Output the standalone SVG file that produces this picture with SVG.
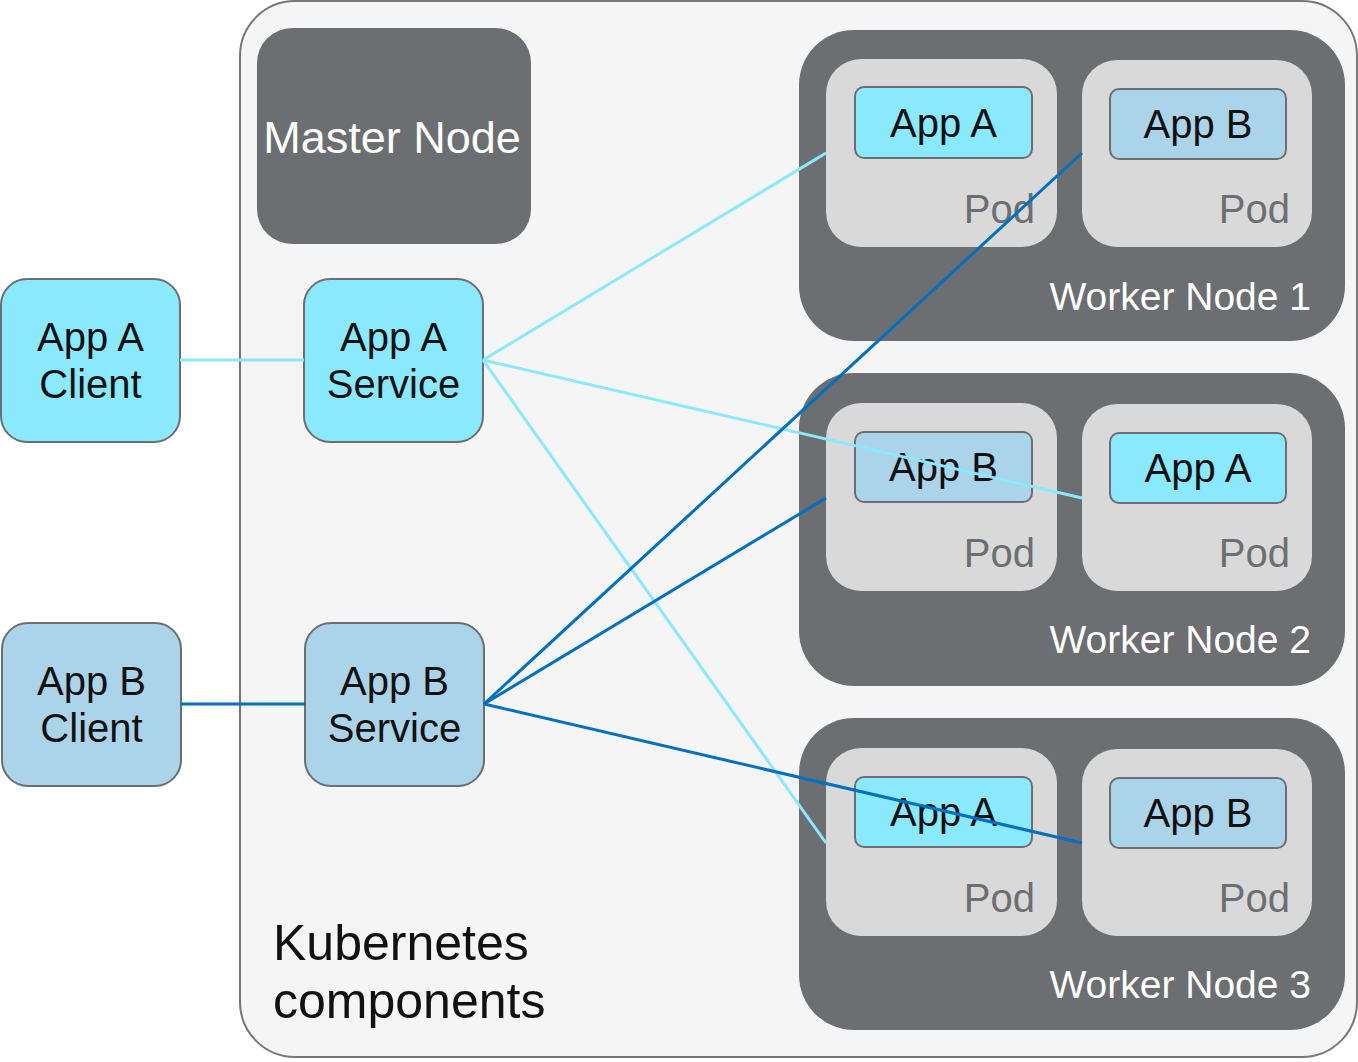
<svg xmlns="http://www.w3.org/2000/svg" width="1358" height="1062" viewBox="0 0 1358 1062">
<style>
text{font-family:"Liberation Sans",Arial,sans-serif}
.dark{fill:#6d6e71}
.pod{fill:#d9d9d9}
.a{fill:#8ae8ff;stroke:#6d6e71;stroke-width:2}
.b{fill:#abd4ea;stroke:#6d6e71;stroke-width:2}
.t40{font-size:40px;fill:#111;text-anchor:middle}
.podt{font-size:40px;fill:#6d6e71;text-anchor:end}
.wn{font-size:39px;fill:#fff;text-anchor:end}
.la{stroke:#8ae8ff;stroke-width:3;fill:none}
.lb{stroke:#0070c0;stroke-width:3;fill:none}
</style>
<rect width="1358" height="1062" fill="#fff"/>
<g id="k8s">
<rect x="240" y="1" width="1117" height="1056" rx="55" fill="#f5f5f5" stroke="#777" stroke-width="2"/>
<text x="273" y="960" font-size="50" fill="#111">Kubernetes</text>
<text x="273" y="1018" font-size="50" fill="#111">components</text>
</g>
<g id="master">
<rect class="dark" x="257" y="28" width="274" height="216" rx="35"/>
<text x="392" y="153" font-size="45" fill="#fff" text-anchor="middle">Master Node</text>
</g>
<g id="clientA">
<rect class="a" x="1" y="279" width="179" height="163" rx="26"/>
<text class="t40" x="90.5" y="351">App A</text>
<text class="t40" x="90.5" y="398">Client</text>
</g>
<g id="serviceA">
<rect class="a" x="304" y="279" width="179" height="163" rx="26"/>
<text class="t40" x="393.5" y="351">App A</text>
<text class="t40" x="393.5" y="398">Service</text>
</g>
<g id="clientB">
<rect class="b" x="2" y="623" width="179" height="163" rx="26"/>
<text class="t40" x="91.5" y="695">App B</text>
<text class="t40" x="91.5" y="742">Client</text>
</g>
<g id="serviceB">
<rect class="b" x="305" y="623" width="179" height="163" rx="26"/>
<text class="t40" x="394.5" y="695">App B</text>
<text class="t40" x="394.5" y="742">Service</text>
</g>
<g id="worker1">
<rect class="dark" x="799" y="30" width="546" height="311" rx="55"/>
<rect class="pod" x="826" y="59" width="231" height="188" rx="35"/>
<rect class="a" x="855" y="87" width="177" height="71" rx="9"/>
<text class="t40" x="943.5" y="137">App A</text>
<text class="podt" x="1035" y="223">Pod</text>
<rect class="pod" x="1082" y="60" width="230" height="187" rx="35"/>
<rect class="b" x="1110" y="89" width="176" height="70" rx="9"/>
<text class="t40" x="1198" y="138">App B</text>
<text class="podt" x="1290" y="223">Pod</text>
<text class="wn" x="1311" y="310">Worker Node 1</text>
</g>
<g id="worker2">
<rect class="dark" x="799" y="373" width="546" height="313" rx="55"/>
<rect class="pod" x="826" y="403" width="231" height="188" rx="35"/>
<rect class="b" x="855" y="432" width="177" height="70" rx="9"/>
<text class="t40" x="943.5" y="481">App B</text>
<text class="podt" x="1035" y="567">Pod</text>
<rect class="pod" x="1082" y="404" width="230" height="187" rx="35"/>
<rect class="a" x="1110" y="433" width="176" height="70" rx="9"/>
<text class="t40" x="1198" y="482">App A</text>
<text class="podt" x="1290" y="567">Pod</text>
<text class="wn" x="1311" y="653">Worker Node 2</text>
</g>
<g id="worker3">
<rect class="dark" x="799" y="718" width="546" height="312" rx="55"/>
<rect class="pod" x="826" y="748" width="231" height="188" rx="35"/>
<rect class="a" x="855" y="777" width="177" height="70" rx="9"/>
<text class="t40" x="943.5" y="826">App A</text>
<text class="podt" x="1035" y="912">Pod</text>
<rect class="pod" x="1082" y="749" width="230" height="187" rx="35"/>
<rect class="b" x="1110" y="778" width="176" height="70" rx="9"/>
<text class="t40" x="1198" y="827">App B</text>
<text class="podt" x="1290" y="912">Pod</text>
<text class="wn" x="1311" y="998">Worker Node 3</text>
</g>
<g id="connectors">
<line class="la" x1="180" y1="360" x2="304" y2="360"/>
<line class="la" x1="483" y1="360" x2="826" y2="153"/>
<line class="la" x1="483" y1="360" x2="1082" y2="498"/>
<line class="la" x1="483" y1="360" x2="826" y2="843"/>
<line class="lb" x1="181" y1="704" x2="305" y2="704"/>
<line class="lb" x1="484" y1="704" x2="1082" y2="153"/>
<line class="lb" x1="484" y1="704" x2="826" y2="498"/>
<line class="lb" x1="484" y1="704" x2="1082" y2="843"/>
</g>
</svg>
